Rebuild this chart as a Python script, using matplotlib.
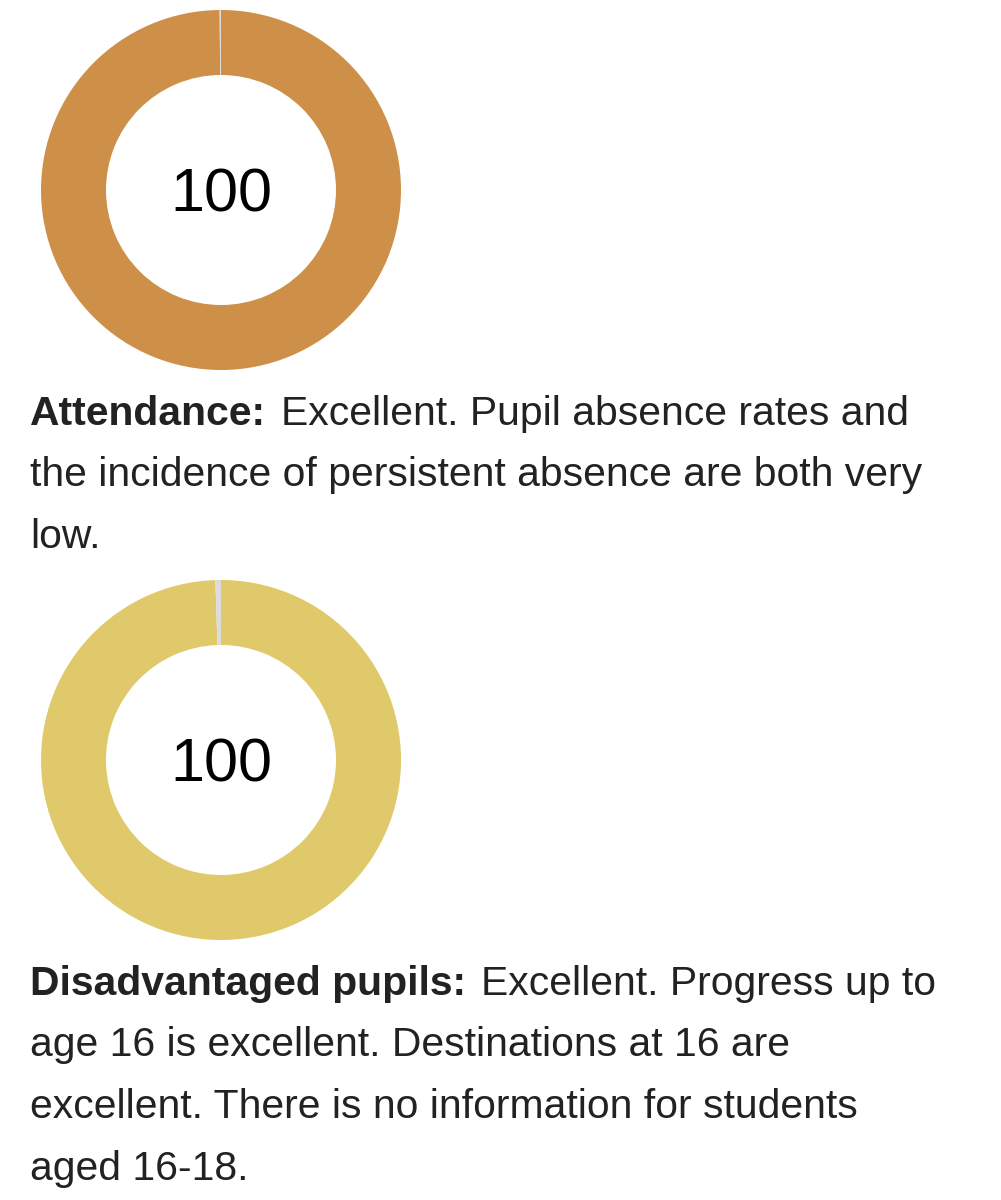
import matplotlib
matplotlib.use("Agg")
import matplotlib.pyplot as plt

# scores shown in the donuts, and the small remainder drawn in grey at the top
scores = [100, 100]
remainders = [0.12, 0.5]
ring_colors = ["#ce9049", "#dfc96a"]

headings = ["Attendance:", "Disadvantaged pupils:"]
descriptions = [
    ["Excellent. Pupil absence rates and",
     "the incidence of persistent absence are both very",
     "low."],
    ["Excellent. Progress up to",
     "age 16 is excellent. Destinations at 16 are",
     "excellent. There is no information for students",
     "aged 16-18."],
]

W, H = 1001, 1200
fig = plt.figure(figsize=(W / 100, H / 100), dpi=100)
fig.patch.set_facecolor("white")
plt.rcParams["font.family"] = ["Liberation Sans", "DejaVu Sans"]

centers_y = [190, 760]
text_y = [425, 995]
outer_r = 180
ring_w = 65 / 180
line_gap = 61.5
text_x = 30
fs = 29.4

renderer = fig.canvas.get_renderer()

for i in range(len(scores)):
    cy = centers_y[i]
    ax = fig.add_axes([(221 - outer_r) / W, (H - cy - outer_r) / H,
                       2 * outer_r / W, 2 * outer_r / H])
    ax.pie([scores[i], remainders[i]], colors=[ring_colors[i], "#dcdcdc"],
           startangle=90, counterclock=False, radius=1,
           wedgeprops=dict(width=ring_w, linewidth=0))
    ax.set_xlim(-1, 1)
    ax.set_ylim(-1, 1)
    ax.set_aspect("equal")
    ax.axis("off")
    ax.text(0, -22 / outer_r, str(scores[i]), ha="center", va="baseline",
            fontsize=44, color="black")

    # description text with bold heading
    y0 = 1 - text_y[i] / H
    t = fig.text(text_x / W, y0, headings[i], fontsize=fs, fontweight="bold",
                 color="#222222", va="baseline", ha="left")
    bb = t.get_window_extent(renderer)
    fig.text((bb.x1 + 15) / W, y0, descriptions[i][0], fontsize=fs,
             color="#222222", va="baseline", ha="left")
    for j, line in enumerate(descriptions[i][1:], start=1):
        fig.text(text_x / W, 1 - (text_y[i] + j * line_gap) / H, line,
                 fontsize=fs, color="#222222", va="baseline", ha="left")

fig.savefig("out.png", dpi=100, facecolor="white")
